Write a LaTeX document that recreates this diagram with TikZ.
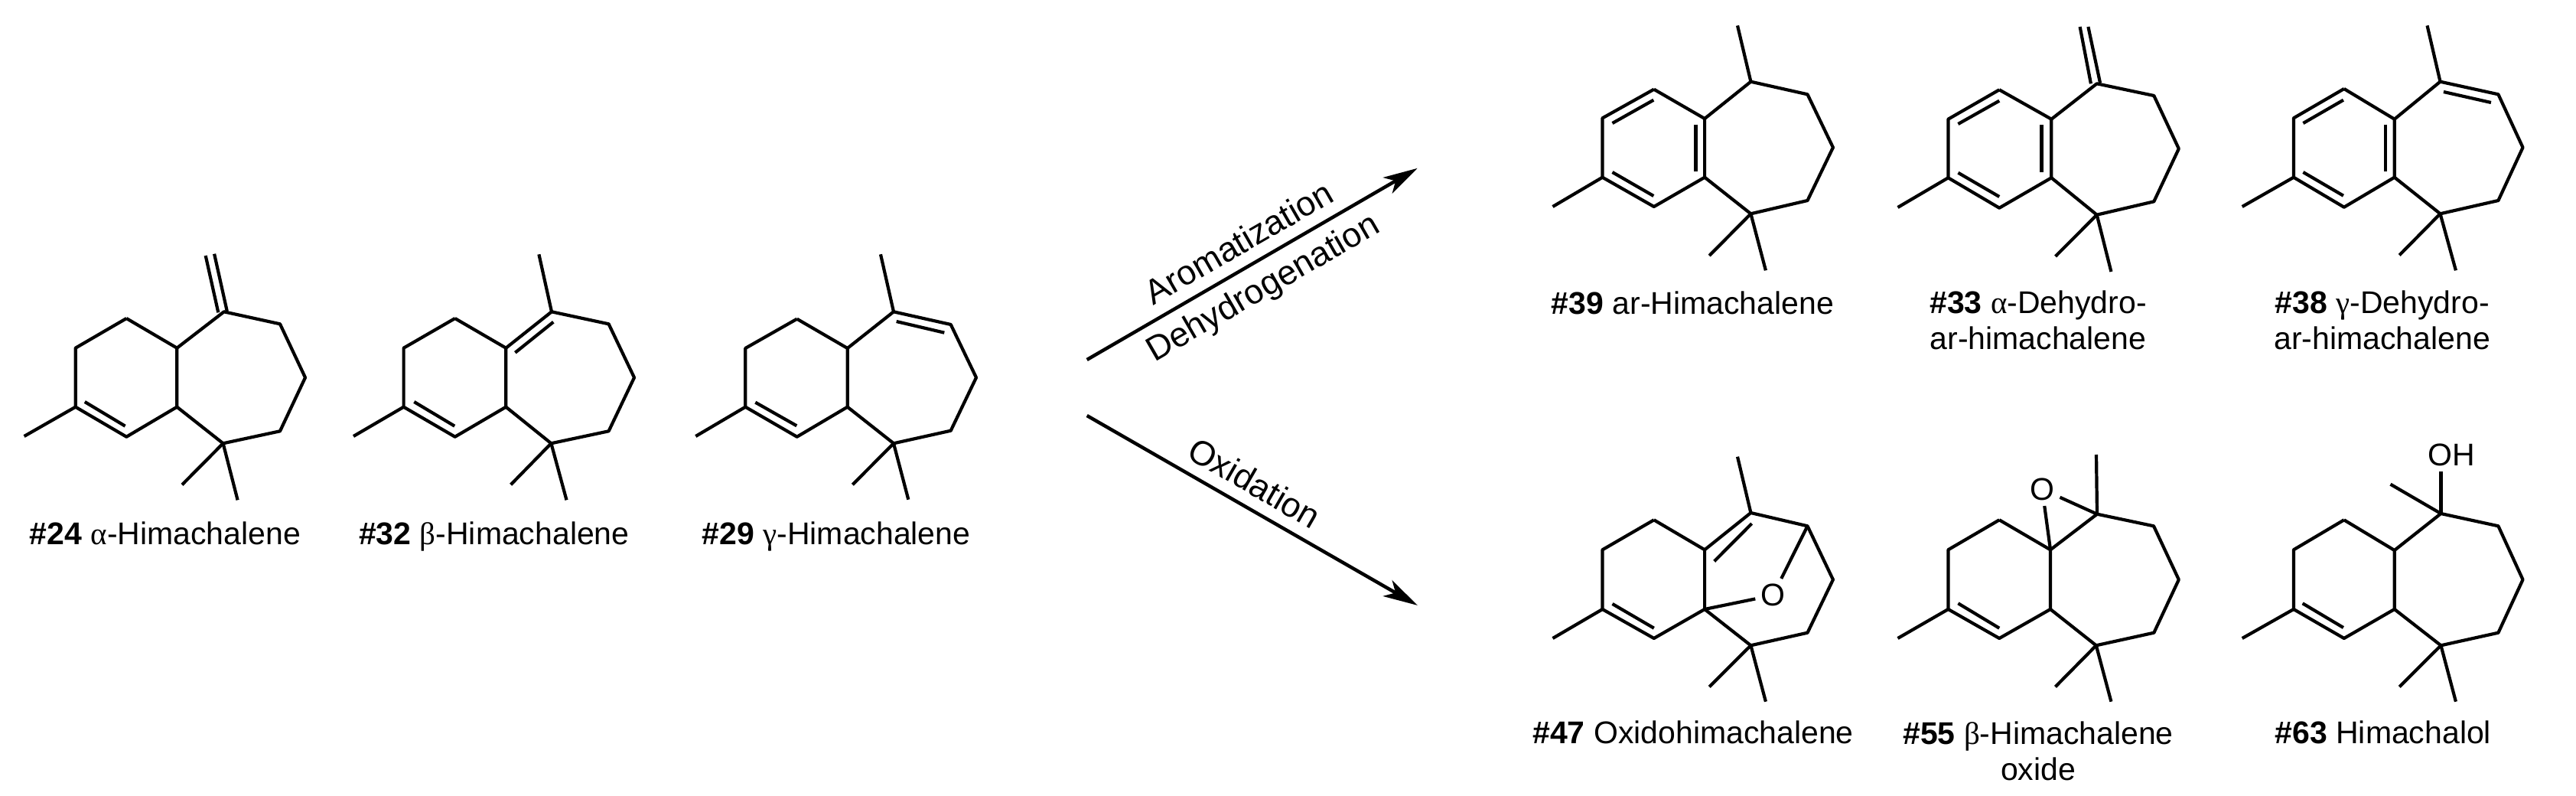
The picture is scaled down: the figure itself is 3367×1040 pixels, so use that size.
\documentclass[tikz,border=0pt]{standalone}
\usepackage{fontspec}
\usepackage{tikz}
\usetikzlibrary{arrows.meta}
\setmainfont{Liberation Sans}
\newfontfamily\greekfont{Liberation Serif}

\begin{document}
\begin{tikzpicture}[x=1pt, y=-1pt]
	\tikzstyle{Bond}	= [line width=4.2pt, line join=round]
	\tikzstyle{Reaction}	= [line width=4.5pt, -{Stealth[length=45pt, width=24pt, inset=12pt]}]
	\tikzstyle{Name}	= [font=\fontsize{41}{47}\selectfont, inner sep=0pt, align=center, anchor=base]
	\tikzstyle{Step}	= [font=\fontsize{45}{50}\selectfont, inner sep=0pt]
	\tikzstyle{Atom}	= [font=\fontsize{41}{47}\selectfont, inner sep=7pt]

	\useasboundingbox (0, 0) rectangle (3367, 1040);

	\coordinate (a1) at (165.3, 416);
	\coordinate (a2) at (98.7, 454.7);
	\coordinate (a3) at (98.7, 531.7);
	\coordinate (a4) at (165.3, 570.7);
	\coordinate (a5) at (231.3, 531.7);
	\coordinate (a6) at (231.3, 454.7);
	\coordinate (a7) at (292.8, 407.3);
	\coordinate (a8) at (366, 423.3);
	\coordinate (a9) at (399, 493.3);
	\coordinate (a10) at (366, 563.3);
	\coordinate (a11) at (291.6, 579.3);
	\coordinate (a12) at (31.6, 570);
	\coordinate (a14) at (238, 633.3);
	\coordinate (a15) at (310.6, 653.3);
	\coordinate (a16) at (110.8, 525);
	\coordinate (a17) at (163.6, 556.7);
	\coordinate (a18) at (268.7, 334);
	\coordinate (a19) at (285.3, 408.3);
	\coordinate (a20) at (280.1, 331.7);
	\coordinate (a21) at (296.8, 406.7);
	\node (a) at (216, 711) [Name] {\textbf{\#24} {\greekfont α}-Himachalene};

	\draw [-] (a1) to (a2) to (a3) to (a4) to (a5) to (a6) to (a1) [Bond];
	\draw [-] (a6) to (a7) to (a8) to (a9) to (a10) to (a11) to (a5) [Bond];
	\draw [-] (a3) to (a12) [Bond];
	\draw [-] (a11) to (a14) [Bond];
	\draw [-] (a11) to (a15) [Bond];
	\draw [-] (a16) to (a17) [Bond];
	\draw [-] (a18) to (a19) [Bond];
	\draw [-] (a20) to (a21) [Bond];

	\coordinate (b1) at (594.7, 416);
	\coordinate (b2) at (527.6, 454.7);
	\coordinate (b3) at (527.6, 531.7);
	\coordinate (b4) at (594.7, 570.7);
	\coordinate (b5) at (661.3, 531.7);
	\coordinate (b6) at (661.3, 454.7);
	\coordinate (b7) at (721, 407.3);
	\coordinate (b8) at (795.6, 423.3);
	\coordinate (b9) at (829, 493.3);
	\coordinate (b10) at (795.6, 563.3);
	\coordinate (b11) at (720.4, 579.3);
	\coordinate (b12) at (462, 570);
	\coordinate (b13) at (704.4, 332.3);
	\coordinate (b14) at (667.6, 633.3);
	\coordinate (b15) at (740.5, 653.3);
	\coordinate (b16) at (541.3, 525);
	\coordinate (b17) at (594.2, 556.7);
	\coordinate (b18) at (673.4, 460.7);
	\coordinate (b19) at (723.3, 420.7);
	\node (b) at (645.8, 711) [Name] {\textbf{\#32} {\greekfont β}-Himachalene};

	\draw [-] (b1) to (b2) to (b3) to (b4) to (b5) to (b6) to (b1) [Bond];
	\draw [-] (b6) to (b7) to (b8) to (b9) to (b10) to (b11) to (b5) [Bond];
	\draw [-] (b3) to (b12) [Bond];
	\draw [-] (b7) to (b13) [Bond];
	\draw [-] (b11) to (b14) [Bond];
	\draw [-] (b11) to (b15) [Bond];
	\draw [-] (b16) to (b17) [Bond];
	\draw [-] (b18) to (b19) [Bond];

	\coordinate (c1) at (1041.7, 416.7);
	\coordinate (c2) at (974.3, 455);
	\coordinate (c3) at (974.3, 531.7);
	\coordinate (c4) at (1041.7, 570.7);
	\coordinate (c5) at (1107.7, 531.7);
	\coordinate (c6) at (1107.7, 455);
	\coordinate (c7) at (1168, 407.3);
	\coordinate (c8) at (1242.7, 424);
	\coordinate (c9) at (1276, 493.3);
	\coordinate (c10) at (1242.7, 562.7);
	\coordinate (c11) at (1168, 579.3);
	\coordinate (c12) at (909.3, 570);
	\coordinate (c13) at (1151, 332.3);
	\coordinate (c14) at (1114.3, 633.3);
	\coordinate (c15) at (1187.3, 652.7);
	\coordinate (c16) at (987.3, 525.7);
	\coordinate (c17) at (1041.3, 556.3);
	\coordinate (c18) at (1171.7, 420);
	\coordinate (c19) at (1234.3, 434.7);
	\node (c) at (1093, 711) [Name] {\textbf{\#29} {\greekfont γ}-Himachalene};

	\draw [-] (c1) to (c2) to (c3) to (c4) to (c5) to (c6) to (c1) [Bond];
	\draw [-] (c6) to (c7) to (c8) to (c9) to (c10) to (c11) to (c5) [Bond];
	\draw [-] (c3) to (c12) [Bond];
	\draw [-] (c7) to (c13) [Bond];
	\draw [-] (c11) to (c14) [Bond];
	\draw [-] (c11) to (c15) [Bond];
	\draw [-] (c16) to (c17) [Bond];
	\draw [-] (c18) to (c19) [Bond];

	\coordinate (r1) at (1420.7, 470);
	\coordinate (r2) at (1852.7, 219.8);
	\coordinate (r3) at (1420.7, 543);
	\coordinate (r4) at (1852.7, 790.9);
	\draw (r1) to (r2) [Reaction];
	\draw (r3) to (r4) [Reaction];
	\node (s1) at (1619, 316.6) [Step, rotate=30] {Aromatization};
	\node (s2) at (1651.7, 377.9) [Step, rotate=30] {Dehydrogenation};
	\node (s3) at (1640, 630.8) [Step, rotate=-30] {Oxidation};

	\coordinate (d1) at (2161.8, 116.7);
	\coordinate (d2) at (2094.5, 154.3);
	\coordinate (d3) at (2094.5, 231.7);
	\coordinate (d4) at (2161.8, 270);
	\coordinate (d5) at (2228.1, 231.7);
	\coordinate (d6) at (2228.1, 155);
	\coordinate (d7) at (2288.4, 106.7);
	\coordinate (d8) at (2362.5, 123.3);
	\coordinate (d9) at (2395.9, 192.7);
	\coordinate (d10) at (2362.5, 262);
	\coordinate (d11) at (2288.4, 279.3);
	\coordinate (d12) at (2029.5, 270);
	\coordinate (d13) at (2271, 33.4);
	\coordinate (d14) at (2234.2, 334);
	\coordinate (d15) at (2307.9, 353.3);
	\coordinate (d16) at (2107.5, 161);
	\coordinate (d17) at (2161.3, 130.7);
	\coordinate (d18) at (2107.5, 225);
	\coordinate (d19) at (2161.3, 256);
	\coordinate (d20) at (2216.4, 162.7);
	\coordinate (d21) at (2216.4, 224);
	\node (d) at (2212.5, 410.7) [Name] {\textbf{\#39} ar-Himachalene};

	\draw [-] (d1) to (d2) to (d3) to (d4) to (d5) to (d6) to (d1) [Bond];
	\draw [-] (d6) to (d7) to (d8) to (d9) to (d10) to (d11) to (d5) [Bond];
	\draw [-] (d3) to (d12) [Bond];
	\draw [-] (d7) to (d13) [Bond];
	\draw [-] (d11) to (d14) [Bond];
	\draw [-] (d11) to (d15) [Bond];
	\draw [-] (d16) to (d17) [Bond];
	\draw [-] (d18) to (d19) [Bond];
	\draw [-] (d20) to (d21) [Bond];

	\coordinate (e1) at (2613.2, 117.3);
	\coordinate (e2) at (2546.4, 155.7);
	\coordinate (e3) at (2546.4, 232.3);
	\coordinate (e4) at (2613.2, 271.7);
	\coordinate (e5) at (2681.3, 232.3);
	\coordinate (e6) at (2681.3, 155.7);
	\coordinate (e7) at (2740.7, 109.3);
	\coordinate (e8) at (2815.3, 125);
	\coordinate (e9) at (2847.8, 194.3);
	\coordinate (e10) at (2815.3, 263.3);
	\coordinate (e11) at (2740.7, 280.7);
	\coordinate (e12) at (2480.5, 271);
	\coordinate (e14) at (2686.5, 335);
	\coordinate (e15) at (2759.4, 355);
	\coordinate (e16) at (2559.4, 162);
	\coordinate (e17) at (2613.2, 131.7);
	\coordinate (e18) at (2559.4, 225.7);
	\coordinate (e19) at (2613.2, 257);
	\coordinate (e20) at (2668.5, 163.5);
	\coordinate (e21) at (2668.5, 225);
	\coordinate (e22) at (2718.6, 35);
	\coordinate (e23) at (2732.9, 109.3);
	\coordinate (e24) at (2729.4, 35);
	\coordinate (e25) at (2745, 108.3);
	\node (e) at (2664, 456.7) [Name] {\textbf{\#33} {\greekfont α}-Dehydro-\\ar-himachalene};

	\draw [-] (e1) to (e2) to (e3) to (e4) to (e5) to (e6) to (e1) [Bond];
	\draw [-] (e6) to (e7) to (e8) to (e9) to (e10) to (e11) to (e5) [Bond];
	\draw [-] (e3) to (e12) [Bond];
	\draw [-] (e11) to (e14) [Bond];
	\draw [-] (e11) to (e15) [Bond];
	\draw [-] (e16) to (e17) [Bond];
	\draw [-] (e18) to (e19) [Bond];
	\draw [-] (e20) to (e21) [Bond];
	\draw [-] (e22) to (e23) [Bond];
	\draw [-] (e24) to (e25) [Bond];

	\coordinate (f1) at (3063.8, 116);
	\coordinate (f2) at (2997.9, 154.3);
	\coordinate (f3) at (2997.9, 231.7);
	\coordinate (f4) at (3063.8, 270.7);
	\coordinate (f5) at (3129.7, 231.7);
	\coordinate (f6) at (3129.7, 155.7);
	\coordinate (f7) at (3189.5, 106.7);
	\coordinate (f8) at (3265.4, 123.3);
	\coordinate (f9) at (3297.5, 192.7);
	\coordinate (f10) at (3265.4, 262);
	\coordinate (f11) at (3189.5, 279.3);
	\coordinate (f12) at (2930.7, 270);
	\coordinate (f13) at (3172.5, 33.4);
	\coordinate (f14) at (3136.2, 333.3);
	\coordinate (f15) at (3209.9, 353.3);
	\coordinate (f16) at (3010.4, 161);
	\coordinate (f17) at (3062.9, 130.7);
	\coordinate (f18) at (3010.4, 225);
	\coordinate (f19) at (3062.9, 255.7);
	\coordinate (f20) at (3118, 162.7);
	\coordinate (f21) at (3118, 224);
	\coordinate (f22) at (3193.9, 120);
	\coordinate (f23) at (3255.9, 134);
	\node (f) at (3113.6, 456.7) [Name] {\textbf{\#38} {\greekfont γ}-Dehydro-\\ar-himachalene};

	\draw [-] (f1) to (f2) to (f3) to (f4) to (f5) to (f6) to (f1) [Bond];
	\draw [-] (f6) to (f7) to (f8) to (f9) to (f10) to (f11) to (f5) [Bond];
	\draw [-] (f3) to (f12) [Bond];
	\draw [-] (f7) to (f13) [Bond];
	\draw [-] (f11) to (f14) [Bond];
	\draw [-] (f11) to (f15) [Bond];
	\draw [-] (f16) to (f17) [Bond];
	\draw [-] (f18) to (f19) [Bond];
	\draw [-] (f20) to (f21) [Bond];
	\draw [-] (f22) to (f23) [Bond];

	\coordinate (g1) at (2161.8, 679.3);
	\coordinate (g2) at (2094.5, 718.3);
	\coordinate (g3) at (2094.5, 796);
	\coordinate (g4) at (2161.8, 834);
	\coordinate (g5) at (2228.1, 796);
	\coordinate (g6) at (2228.1, 718.3);
	\coordinate (g7) at (2288.4, 670);
	\coordinate (g8) at (2362.5, 687.3);
	\coordinate (g9) at (2395.9, 757.3);
	\coordinate (g10) at (2362.5, 826.7);
	\coordinate (g11) at (2288.4, 843.3);
	\coordinate (g12) at (2029.5, 834);
	\coordinate (g13) at (2271, 596.7);
	\coordinate (g14) at (2234.2, 897.3);
	\coordinate (g15) at (2307.9, 916.7);
	\coordinate (g16) at (2107.5, 789);
	\coordinate (g17) at (2161.8, 820.7);
	\coordinate (g18) at (2240.7, 733.3);
	\coordinate (g19) at (2289.7, 684);
	\node (gO) at (2317.4, 777.7) [Atom] {O};
	\node (g) at (2213, 971.7) [Name] {\textbf{\#47} Oxidohimachalene};

	\draw [-] (g1) to (g2) to (g3) to (g4) to (g5) to (g6) to (g1) [Bond];
	\draw [-] (g6) to (g7) to (g8) to (g9) to (g10) to (g11) to (g5) [Bond];
	\draw [-] (g3) to (g12) [Bond];
	\draw [-] (g7) to (g13) [Bond];
	\draw [-] (g11) to (g14) [Bond];
	\draw [-] (g11) to (g15) [Bond];
	\draw [-] (g16) to (g17) [Bond];
	\draw [-] (g18) to (g19) [Bond];
	\draw [-] (g5) to (gO) [Bond];
	\draw [-] (g8) to (gO) [Bond];

	\coordinate (h1) at (2613.2, 679.3);
	\coordinate (h2) at (2546.4, 718.3);
	\coordinate (h3) at (2546.4, 796);
	\coordinate (h4) at (2613.2, 834);
	\coordinate (h5) at (2680, 796);
	\coordinate (h6) at (2680, 718.3);
	\coordinate (h7) at (2741, 671.7);
	\coordinate (h8) at (2815, 687.3);
	\coordinate (h9) at (2847.8, 757.3);
	\coordinate (h10) at (2815.3, 826.7);
	\coordinate (h11) at (2739.8, 843.3);
	\coordinate (h12) at (2480.5, 834);
	\coordinate (h13) at (2740, 594);
	\coordinate (h14) at (2686.5, 897.3);
	\coordinate (h15) at (2759.4, 916.7);
	\coordinate (h16) at (2559.4, 788.3);
	\coordinate (h17) at (2613.2, 820.7);
	\node (hO) at (2669.3, 639.3) [Atom] {O};
	\node (h) at (2664, 1019) [Name] {\textbf{\#55} {\greekfont β}-Himachalene\\oxide};

	\draw [-] (h1) to (h2) to (h3) to (h4) to (h5) to (h6) to (h1) [Bond];
	\draw [-] (h6) to (h7) to (h8) to (h9) to (h10) to (h11) to (h5) [Bond];
	\draw [-] (h3) to (h12) [Bond];
	\draw [-] (h7) to (h13) [Bond];
	\draw [-] (h11) to (h14) [Bond];
	\draw [-] (h11) to (h15) [Bond];
	\draw [-] (h16) to (h17) [Bond];
	\draw [-] (h6) to (hO) [Bond];
	\draw [-] (h7) to (hO) [Bond];

	\coordinate (i1) at (3063.8, 679.3);
	\coordinate (i2) at (2997.9, 718.3);
	\coordinate (i3) at (2997.9, 796);
	\coordinate (i4) at (3063.8, 834);
	\coordinate (i5) at (3129.7, 796);
	\coordinate (i6) at (3129.7, 719);
	\coordinate (i7) at (3190.4, 671);
	\coordinate (i8) at (3265.4, 687.3);
	\coordinate (i9) at (3297.5, 757.3);
	\coordinate (i10) at (3265.4, 826.7);
	\coordinate (i11) at (3190.4, 843.3);
	\coordinate (i12) at (2930.7, 834);
	\coordinate (i13) at (3124.5, 632.7);
	\coordinate (i14) at (3136.2, 897.3);
	\coordinate (i15) at (3209.9, 916.7);
	\coordinate (i16) at (3009.6, 788.3);
	\coordinate (i17) at (3062.9, 820);
	\node (iOH) at (3204.7, 594.7) [Atom] {OH};
	\node (i) at (3114.8, 971.7) [Name] {\textbf{\#63} Himachalol};

	\draw [-] (i1) to (i2) to (i3) to (i4) to (i5) to (i6) to (i1) [Bond];
	\draw [-] (i6) to (i7) to (i8) to (i9) to (i10) to (i11) to (i5) [Bond];
	\draw [-] (i3) to (i12) [Bond];
	\draw [-] (i7) to (i13) [Bond];
	\draw [-] (i11) to (i14) [Bond];
	\draw [-] (i11) to (i15) [Bond];
	\draw [-] (i16) to (i17) [Bond];
	\draw [-] (i7) to (iOH.south -| i7) [Bond];
\end{tikzpicture}
\end{document}
